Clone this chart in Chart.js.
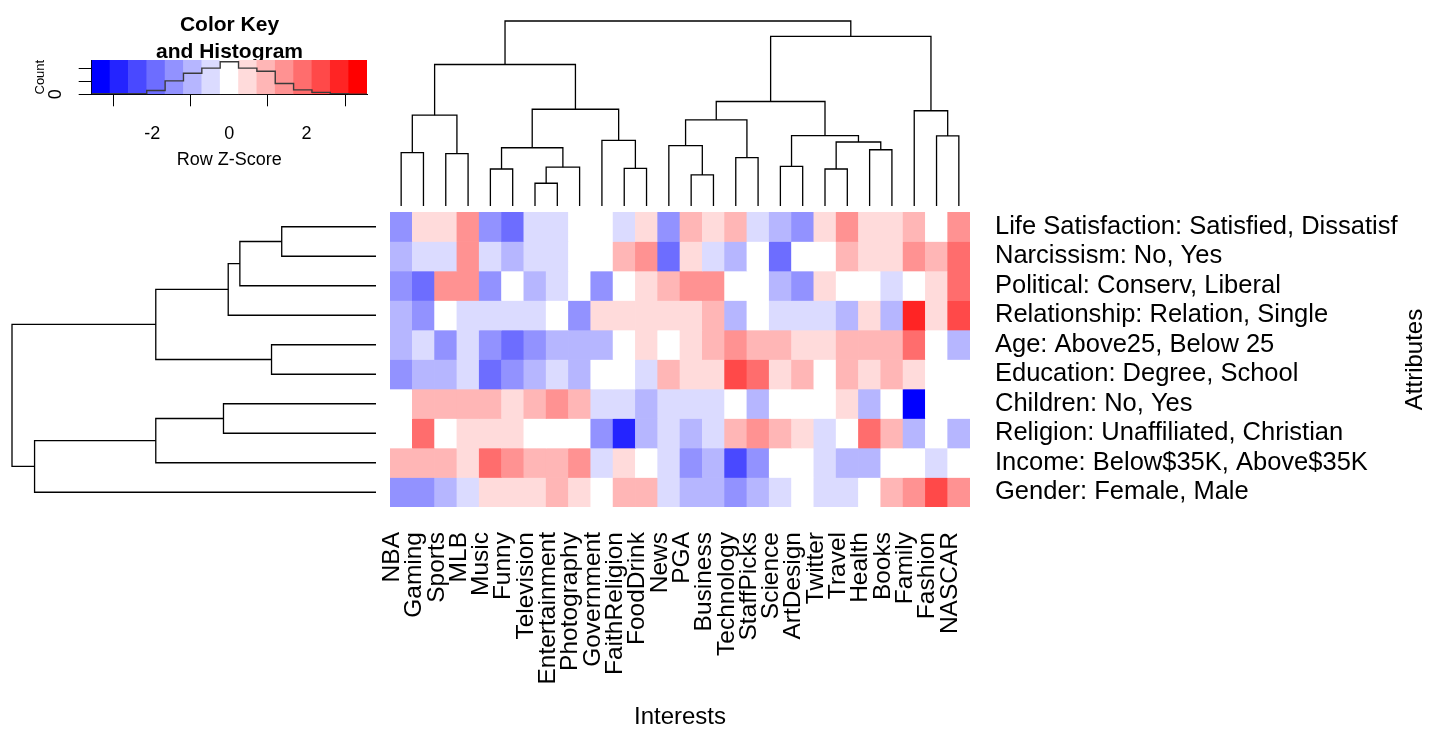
<!DOCTYPE html>
<html>
<head>
<meta charset="utf-8">
<script src="https://cdn.jsdelivr.net/npm/chart.js@4.4.1/dist/chart.umd.min.js"></script>
<style>
  body { margin: 0; background: #fff; }
  #wrap { position: relative; width: 1429px; height: 729px; overflow: hidden; background: #fff; }
  canvas { position: absolute; }
</style>
</head>
<body>
<div id="wrap">
  <canvas id="keyChart" width="459" height="169" style="left:0;top:0"></canvas>
  <canvas id="colDendro" width="580" height="190" style="left:390px;top:18px"></canvas>
  <canvas id="rowDendro" width="370" height="295" style="left:8px;top:212px"></canvas>
  <canvas id="heatChart" width="1059" height="517" style="left:370px;top:212px"></canvas>
</div>
<script>
// columns (interests) and rows (attributes) in heatmap order
const interests = ['NBA', 'Gaming', 'Sports', 'MLB', 'Music', 'Funny', 'Television', 'Entertainment',
  'Photography', 'Government', 'FaithReligion', 'FoodDrink', 'News', 'PGA', 'Business', 'Technology',
  'StaffPicks', 'Science', 'ArtDesign', 'Twitter', 'Travel', 'Health', 'Books', 'Family', 'Fashion', 'NASCAR'];
const attributes = ['Life Satisfaction: Satisfied, Dissatisf', 'Narcissism: No, Yes', 'Political: Conserv, Liberal',
  'Relationship: Relation, Single', 'Age: Above25, Below 25', 'Education: Degree, School', 'Children: No, Yes',
  'Religion: Unaffiliated, Christian', 'Income: Below$35K, Above$35K', 'Gender: Female, Male'];

// row z-scores, one value per interest
const zLifeSatisfaction = [-1.4, 0.5, 0.5, 1.4, -1.4, -1.9, -0.5, -0.5, 0, 0, -0.5, 0.5, -1.4, 1.0, 0.5, 1.0, -0.5, -1.0, -1.4, 0.5, 1.4, 0.5, 0.5, 1.0, 0, 1.4];
const zNarcissism = [-1.0, -0.5, -0.5, 1.4, -0.5, -1.0, -0.5, -0.5, 0, 0, 1.0, 1.4, -1.9, 0.5, -0.5, -1.0, 0, -1.9, 0, 0, 1.0, 0.5, 0.5, 1.4, 1.0, 1.9];
const zPolitical = [-1.4, -1.9, 1.4, 1.4, -1.4, 0, -1.0, -0.5, 0, -1.4, 0, 0.5, 1.0, 1.4, 1.4, 0, 0, -1.0, -1.4, 0.5, 0, 0, -0.5, 0, 0.5, 1.9];
const zRelationship = [-1.0, -1.4, 0, -0.5, -0.5, -0.5, -0.5, 0, -1.4, 0.5, 0.5, 0.5, 0.5, 0.5, 1.0, -1.0, 0, -0.5, -0.5, -0.5, -1.0, 0.5, -1.0, 2.9, 0.5, 2.4];
const zAge = [-1.0, -0.5, -1.4, -0.5, -1.4, -1.9, -1.4, -1.0, -1.0, -1.0, 0, 0.5, 0, 0.5, 1.0, 1.4, 1.0, 1.0, 0.5, 0.5, 1.0, 1.0, 1.0, 1.9, 0, -1.0];
const zEducation = [-1.4, -1.0, -1.0, -0.5, -1.9, -1.4, -1.0, -0.5, -1.0, 0, 0, -0.5, 1.0, 0.5, 0.5, 2.4, 1.9, 0.5, 1.0, 0, 1.0, 0.5, 1.0, 0.5, 0, 0];
const zChildren = [0, 1.0, 1.0, 1.0, 1.0, 0.5, 1.0, 1.4, 1.0, -0.5, -0.5, -1.0, -0.5, -0.5, -0.5, 0, -1.0, 0, 0, 0, 0.5, -1.0, 0, -3.3, 0, 0];
const zReligion = [0, 1.9, 0, 0.5, 0.5, 0.5, 0, 0, 0, -1.4, -2.9, -1.0, -0.5, -1.0, -0.5, 1.0, 1.4, 1.0, 0.5, -0.5, 0, 1.9, 1.0, -1.0, 0, -1.0];
const zIncome = [1.0, 1.0, 1.0, 0.5, 1.9, 1.4, 1.0, 1.0, 1.4, -0.5, 0.5, 0, -0.5, -1.4, -1.0, -2.4, -1.4, 0, 0, -0.5, -1.0, -1.0, 0, 0, -0.5, 0];
const zGender = [-1.4, -1.4, -1.0, -0.5, 0.5, 0.5, 0.5, 1.0, 0.5, 0, 1.0, 1.0, -0.5, -1.0, -1.0, -1.4, -1.0, -0.5, 0, -0.5, -0.5, 0, 1.0, 1.4, 2.4, 1.4];
const zRows = [zLifeSatisfaction, zNarcissism, zPolitical, zRelationship, zAge, zEducation, zChildren, zReligion, zIncome, zGender];

// dendrograms: [left, right, height]; negative = leaf (1-based), positive = earlier merge
const colMerges = [
  [-7, -8, 1.23], [-14, -15, 1.68], [-5, -6, 2.0], [-20, -21, 2.0], [-11, -12, 2.03],
  [1, -9, 2.1], [-18, -19, 2.14], [-16, -17, 2.61], [-3, -4, 2.83], [-1, -2, 2.88],
  [-22, -23, 3.04], [3, 6, 3.15], [-13, 2, 3.26], [4, 11, 3.46], [-10, 5, 3.55],
  [-25, -26, 3.79], [7, 14, 3.80], [13, 8, 4.66], [10, 9, 4.91], [-24, 16, 5.15],
  [12, 15, 5.23], [18, 17, 5.65], [19, 21, 7.65], [22, 20, 9.17], [23, 24, 10.0]
];
const rowMerges = [
  [-1, -2, 2.59], [-5, -6, 2.87], [1, -3, 3.74], [3, -4, 4.06], [-7, -8, 4.19],
  [4, 2, 6.05], [5, -9, 6.05], [7, -10, 9.38], [6, 8, 10.0]
];

// colour key
const keyColors = ['#0000FF', '#2424FF', '#4949FF', '#6D6DFF', '#9292FF', '#B6B6FF', '#DBDBFF', '#FFFFFF',
  '#FFDBDB', '#FFB6B6', '#FF9292', '#FF6D6D', '#FF4949', '#FF2424', '#FF0000'];
const keyMin = -3.57;
const keyMax = 3.57;
const keyTicks = [-2, 0, 2];
const countTicks = [0, 10, 20, 30, 40, 50];

Chart.defaults.font.family = '"Liberation Sans", Arial, Helvetica, sans-serif';
Chart.defaults.color = '#000';

const binW = (keyMax - keyMin) / keyColors.length;
const binOf = z => Math.min(keyColors.length - 1, Math.max(0, Math.floor((z - keyMin) / binW)));

const noExtras = { legend: { display: false }, tooltip: { enabled: false } };
const noScalePadding = s => { s.paddingTop = 0; s.paddingBottom = 0; s.paddingLeft = 0; s.paddingRight = 0; };

// ---- colour key + histogram ----
const allZ = zRows.flat();
const histCounts = keyColors.map((c, k) => allZ.filter(z => binOf(z) === k).length);
const histMax = Math.max(...histCounts) / 0.95;
const histLine = histCounts.map((c, k) => ({ x: keyMin + k * binW, y: c }))
  .concat([{ x: keyMax, y: histCounts[histCounts.length - 1] }]);

new Chart(document.getElementById('keyChart'), {
  type: 'bar',
  data: {
    datasets: [
      {
        type: 'line', data: histLine, stepped: true, borderColor: '#3a3a3a', borderWidth: 1.4,
        pointRadius: 0, fill: false
      },
      {
        data: keyColors.map((c, k) => ({ x: keyMin + (k + 0.5) * binW, y: histMax })),
        backgroundColor: keyColors, borderWidth: 0, barPercentage: 1, categoryPercentage: 1
      }
    ]
  },
  options: {
    responsive: false, animation: false,
    layout: { padding: 0, autoPadding: false },
    plugins: {
      ...noExtras,
      title: {
        display: true, text: ['Color Key', 'and Histogram'],
        font: { size: 21, weight: 'bold', lineHeight: 1.286 },
        padding: { top: 11.5, bottom: -5.5 }
      }
    },
    scales: {
      x: {
        type: 'linear', min: keyMin, max: keyMax, offset: false,
        grid: { drawOnChartArea: false, drawTicks: true, tickLength: 12, color: '#000' },
        border: { display: true, color: '#000' },
        ticks: { padding: 17, font: { size: 18 } },
        afterBuildTicks: s => { s.ticks = keyTicks.map(v => ({ value: v })); },
        title: { display: true, text: 'Row Z-Score', font: { size: 18, lineHeight: 1 }, padding: 0 },
        afterFit: s => { s.height = 74.7; noScalePadding(s); }
      },
      y: {
        min: 0, max: histMax,
        grid: { drawOnChartArea: false, drawTicks: true, tickLength: 13, color: '#000' },
        border: { display: true, color: '#000' },
        ticks: {
          minRotation: 90, maxRotation: 90, crossAlign: 'center', padding: 17.7,
          font: { size: 18 }, callback: v => v === 0 ? '0' : ''
        },
        afterBuildTicks: s => { s.ticks = countTicks.map(v => ({ value: v })); },
        title: { display: true, text: 'Count', font: { size: 13, lineHeight: 1 }, padding: { top: 33.5 } },
        afterFit: s => { s.width = 91.7; noScalePadding(s); }
      },
      spacer: {
        position: 'right', display: true, grid: { display: false }, border: { display: false },
        ticks: { display: false }, afterFit: s => { s.width = 92; noScalePadding(s); }
      }
    }
  }
});

// ---- dendrograms ----
function dendroSegments(merges) {
  const pos = [];
  const hgt = [];
  const segs = [];
  const node = m => m < 0 ? [-m - 1, 0] : [pos[m - 1], hgt[m - 1]];
  merges.forEach(([a, b, h]) => {
    const [pa, ha] = node(a);
    const [pb, hb] = node(b);
    segs.push([[pa, ha], [pa, h], [pb, h], [pb, hb]]);
    pos.push((pa + pb) / 2);
    hgt.push(h);
  });
  return segs;
}

const lineSet = pts => ({
  data: pts, showLine: true, borderColor: '#000', borderWidth: 1.3, pointRadius: 0, clip: false
});

new Chart(document.getElementById('colDendro'), {
  type: 'scatter',
  data: {
    datasets: dendroSegments(colMerges).map(seg => lineSet(seg.map(([p, h]) => ({ x: p, y: h }))))
  },
  options: {
    responsive: false, animation: false,
    layout: { padding: { top: 3, bottom: 2 }, autoPadding: false },
    plugins: noExtras,
    scales: {
      x: { type: 'linear', display: false, min: -0.5, max: interests.length - 0.5 },
      y: { type: 'linear', display: false, min: 0, max: 10 }
    }
  }
});

new Chart(document.getElementById('rowDendro'), {
  type: 'scatter',
  data: {
    datasets: dendroSegments(rowMerges).map(seg => lineSet(seg.map(([p, h]) => ({ x: h, y: p }))))
  },
  options: {
    responsive: false, animation: false,
    layout: { padding: { left: 4, right: 2 }, autoPadding: false },
    plugins: noExtras,
    scales: {
      x: { type: 'linear', display: false, min: 0, max: 10, reverse: true },
      y: { type: 'linear', display: false, min: -0.5, max: attributes.length - 0.5, reverse: true }
    }
  }
});

// ---- heatmap ----
const attributesTitle = {
  id: 'attributesTitle',
  afterDraw(chart) {
    const { ctx, chartArea } = chart;
    ctx.save();
    ctx.translate(chart.width - 14, (chartArea.top + chartArea.bottom) / 2);
    ctx.rotate(-Math.PI / 2);
    ctx.font = '24px "Liberation Sans", Arial, sans-serif';
    ctx.fillStyle = '#000';
    ctx.textAlign = 'center';
    ctx.textBaseline = 'middle';
    ctx.fillText('Attributes', 0, 0);
    ctx.restore();
  }
};

new Chart(document.getElementById('heatChart'), {
  type: 'bar',
  data: {
    labels: interests,
    datasets: zRows.map((row, r) => ({
      data: row.map(() => [r, r + 1]),
      backgroundColor: row.map(z => keyColors[binOf(z)]),
      borderWidth: 0, barPercentage: 1, categoryPercentage: 1, grouped: false, yAxisID: 'y'
    }))
  },
  options: {
    responsive: false, animation: false,
    layout: { padding: { left: 20 }, autoPadding: false },
    plugins: noExtras,
    scales: {
      x: {
        type: 'category', offset: true,
        grid: { display: false, drawTicks: false }, border: { display: false },
        ticks: {
          autoSkip: false, minRotation: 90, maxRotation: 90, padding: 25, labelOffset: -9,
          font: { size: 24.5 }
        },
        title: { display: true, text: 'Interests', font: { size: 24, lineHeight: 1 }, padding: 0 },
        afterFit: s => { s.height = 222; noScalePadding(s); }
      },
      y: { type: 'linear', display: false, min: 0, max: attributes.length, reverse: true },
      rows: {
        type: 'category', position: 'right', labels: attributes, offset: true,
        grid: { display: false, drawTicks: false }, border: { display: false },
        ticks: { autoSkip: false, padding: 25, font: { size: 25.5 } },
        afterFit: s => { s.width = 459; noScalePadding(s); }
      }
    }
  },
  plugins: [attributesTitle]
});
</script>
</body>
</html>
